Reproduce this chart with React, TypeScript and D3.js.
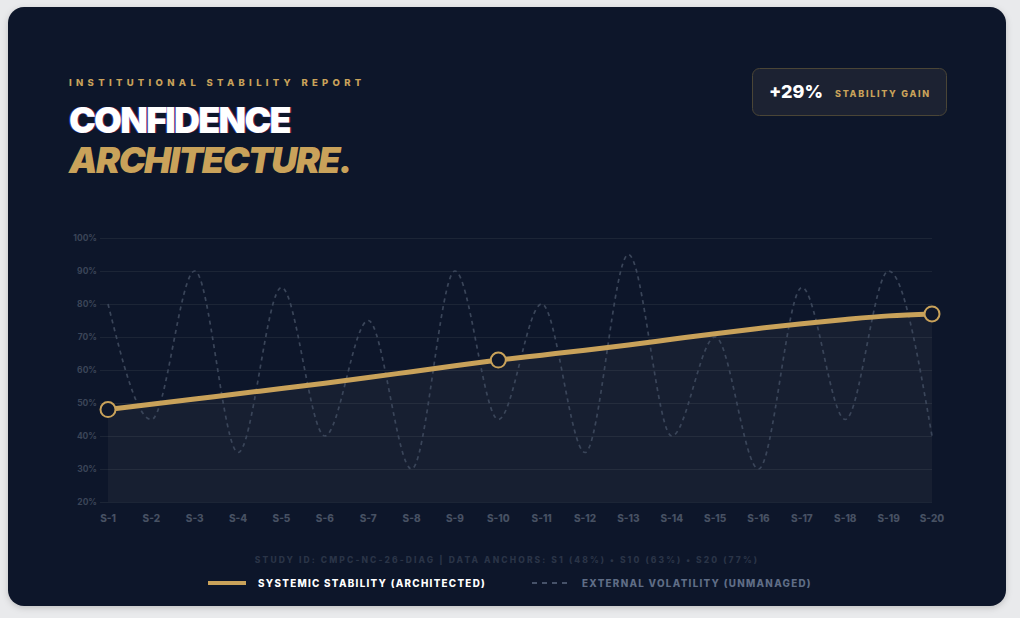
import React, { useEffect, useRef } from 'react';
import * as d3 from 'd3';

const sessions = ['S-1', 'S-2', 'S-3', 'S-4', 'S-5', 'S-6', 'S-7', 'S-8', 'S-9', 'S-10',
  'S-11', 'S-12', 'S-13', 'S-14', 'S-15', 'S-16', 'S-17', 'S-18', 'S-19', 'S-20'];
const stability = [48, 49.6, 51.2, 52.8, 54.4, 56, 57.7, 59.5, 61.3, 63,
  64.5, 66, 67.6, 69.3, 71, 72.6, 74, 75.3, 76.4, 77];
const volatility = [80, 45, 90, 35, 85, 40, 75, 30, 90, 45,
  80, 35, 95, 40, 70, 30, 85, 45, 90, 40];
const anchors = [0, 9, 19];
const yTicks = [20, 30, 40, 50, 60, 70, 80, 90, 100];

const GOLD = '#c9a25a';
const BG = '#0f172a';
const FONT = 'Inter, sans-serif';

export default function App() {
  const svgRef = useRef<SVGSVGElement>(null);

  useEffect(() => {
    if (!svgRef.current) return;
    const svg = d3.select(svgRef.current);
    svg.selectAll('*').remove();

    const defs = svg.append('defs');
    const sh = defs.append('filter').attr('id', 'shadow').attr('x', '-5%').attr('y', '-5%').attr('width', '110%').attr('height', '110%');
    sh.append('feDropShadow').attr('dx', 0).attr('dy', 2).attr('stdDeviation', 3).attr('flood-color', '#000').attr('flood-opacity', 0.18);

    // card
    svg.append('rect').attr('width', 1020).attr('height', 618).attr('fill', '#e9eaec');
    svg.append('rect').attr('x', 8).attr('y', 7).attr('width', 998).attr('height', 599)
      .attr('rx', 16).attr('fill', BG).attr('filter', 'url(#shadow)');

    // header
    svg.append('text').attr('x', 69).attr('y', 86)
      .attr('fill', GOLD).style('font-family', FONT).style('font-size', '9.5px')
      .style('font-weight', 800).style('letter-spacing', '4.3px')
      .text('INSTITUTIONAL STABILITY REPORT');

    svg.append('text').attr('x', 69).attr('y', 133).attr('fill', '#ffffff')
      .style('font-family', FONT).style('font-size', '36px').style('font-weight', 900)
      .style('letter-spacing', '-1.8px')
      .style('text-shadow', '-1px 0 rgba(59,91,255,0.55), 1px 0 rgba(224,36,94,0.55)')
      .text('CONFIDENCE');
    svg.append('text').attr('x', 69).attr('y', 173).attr('fill', GOLD)
      .style('font-family', FONT).style('font-size', '36px').style('font-weight', 900)
      .style('font-style', 'italic').style('letter-spacing', '-1.5px')
      .text('ARCHITECTURE.');

    // badge
    svg.append('rect').attr('x', 752.5).attr('y', 68.5).attr('width', 194).attr('height', 47)
      .attr('rx', 7).attr('fill', '#1c2232').attr('stroke', '#4a4536').attr('stroke-width', 1);
    svg.append('text').attr('x', 769).attr('y', 97.5).attr('fill', '#fff')
      .style('font-family', FONT).style('font-size', '18px').style('font-weight', 800)
      .text('+29%');
    svg.append('text').attr('x', 835).attr('y', 96.5).attr('fill', GOLD)
      .style('font-family', FONT).style('font-size', '9px').style('font-weight', 800)
      .style('letter-spacing', '1.7px').text('STABILITY GAIN');

    // chart
    const x = d3.scalePoint<string>().domain(sessions).range([108, 932]);
    const y = d3.scaleLinear().domain([20, 100]).range([502, 238]);

    const grid = svg.append('g');
    grid.selectAll('line').data(yTicks).join('line')
      .attr('x1', 100).attr('x2', 932)
      .attr('y1', d => y(d) + 0.5).attr('y2', d => y(d) + 0.5)
      .attr('stroke', '#1c2536').attr('stroke-width', 1);
    grid.selectAll('text').data(yTicks).join('text')
      .attr('x', 97).attr('y', d => y(d) + 3)
      .attr('text-anchor', 'end').attr('fill', '#3b4558')
      .style('font-family', FONT).style('font-size', '8.5px').style('font-weight', 700)
      .text(d => `${d}%`);

    svg.append('g').selectAll('text').data(sessions).join('text')
      .attr('x', d => x(d)!).attr('y', 522)
      .attr('text-anchor', 'middle').attr('fill', '#475163')
      .style('font-family', FONT).style('font-size', '10px').style('font-weight', 800)
      .text(d => d);

    const area = d3.area<number>()
      .x((_, i) => x(sessions[i])!)
      .y0(y(20)).y1(d => y(d))
      .curve(d3.curveMonotoneX);
    svg.append('path').datum(stability).attr('d', area)
      .attr('fill', '#c9c2b0').attr('fill-opacity', 0.055);

    const line = d3.line<number>()
      .x((_, i) => x(sessions[i])!)
      .y(d => y(d))
      .curve(d3.curveMonotoneX);

    svg.append('path').datum(volatility).attr('d', line)
      .attr('fill', 'none').attr('stroke', '#3a4559').attr('stroke-width', 1.7)
      .attr('stroke-dasharray', '4 4');

    svg.append('path').datum(stability).attr('d', line)
      .attr('fill', 'none').attr('stroke', GOLD).attr('stroke-width', 5)
      .attr('stroke-linecap', 'round');

    svg.append('g').selectAll('circle').data(anchors).join('circle')
      .attr('cx', i => x(sessions[i])!).attr('cy', i => y(stability[i]))
      .attr('r', 7.5).attr('fill', BG).attr('stroke', GOLD).attr('stroke-width', 2);

    // footer
    svg.append('text').attr('x', 507).attr('y', 563).attr('text-anchor', 'middle')
      .attr('fill', '#2a3447').style('font-family', FONT).style('font-size', '8.5px')
      .style('font-weight', 800).style('letter-spacing', '2.1px')
      .text('STUDY ID: CMPC-NC-26-DIAG | DATA ANCHORS: S1 (48%) • S10 (63%) • S20 (77%)');

    // legend
    svg.append('line').attr('x1', 208).attr('x2', 246).attr('y1', 583).attr('y2', 583)
      .attr('stroke', GOLD).attr('stroke-width', 4);
    svg.append('text').attr('x', 258).attr('y', 586.5).attr('fill', '#ffffff')
      .style('font-family', FONT).style('font-size', '9.8px').style('font-weight', 800)
      .style('letter-spacing', '1.3px').text('SYSTEMIC STABILITY (ARCHITECTED)');
    svg.append('line').attr('x1', 532).attr('x2', 572).attr('y1', 583).attr('y2', 583)
      .attr('stroke', '#465269').attr('stroke-width', 1.8).attr('stroke-dasharray', '5 5');
    svg.append('text').attr('x', 582).attr('y', 586.5).attr('fill', '#5f6d86')
      .style('font-family', FONT).style('font-size', '9.8px').style('font-weight', 800)
      .style('letter-spacing', '1.3px').text('EXTERNAL VOLATILITY (UNMANAGED)');
  }, []);

  return (
    <svg ref={svgRef} width={1020} height={618}
      style={{ position: 'fixed', left: 0, top: 0, display: 'block' }} />
  );
}
